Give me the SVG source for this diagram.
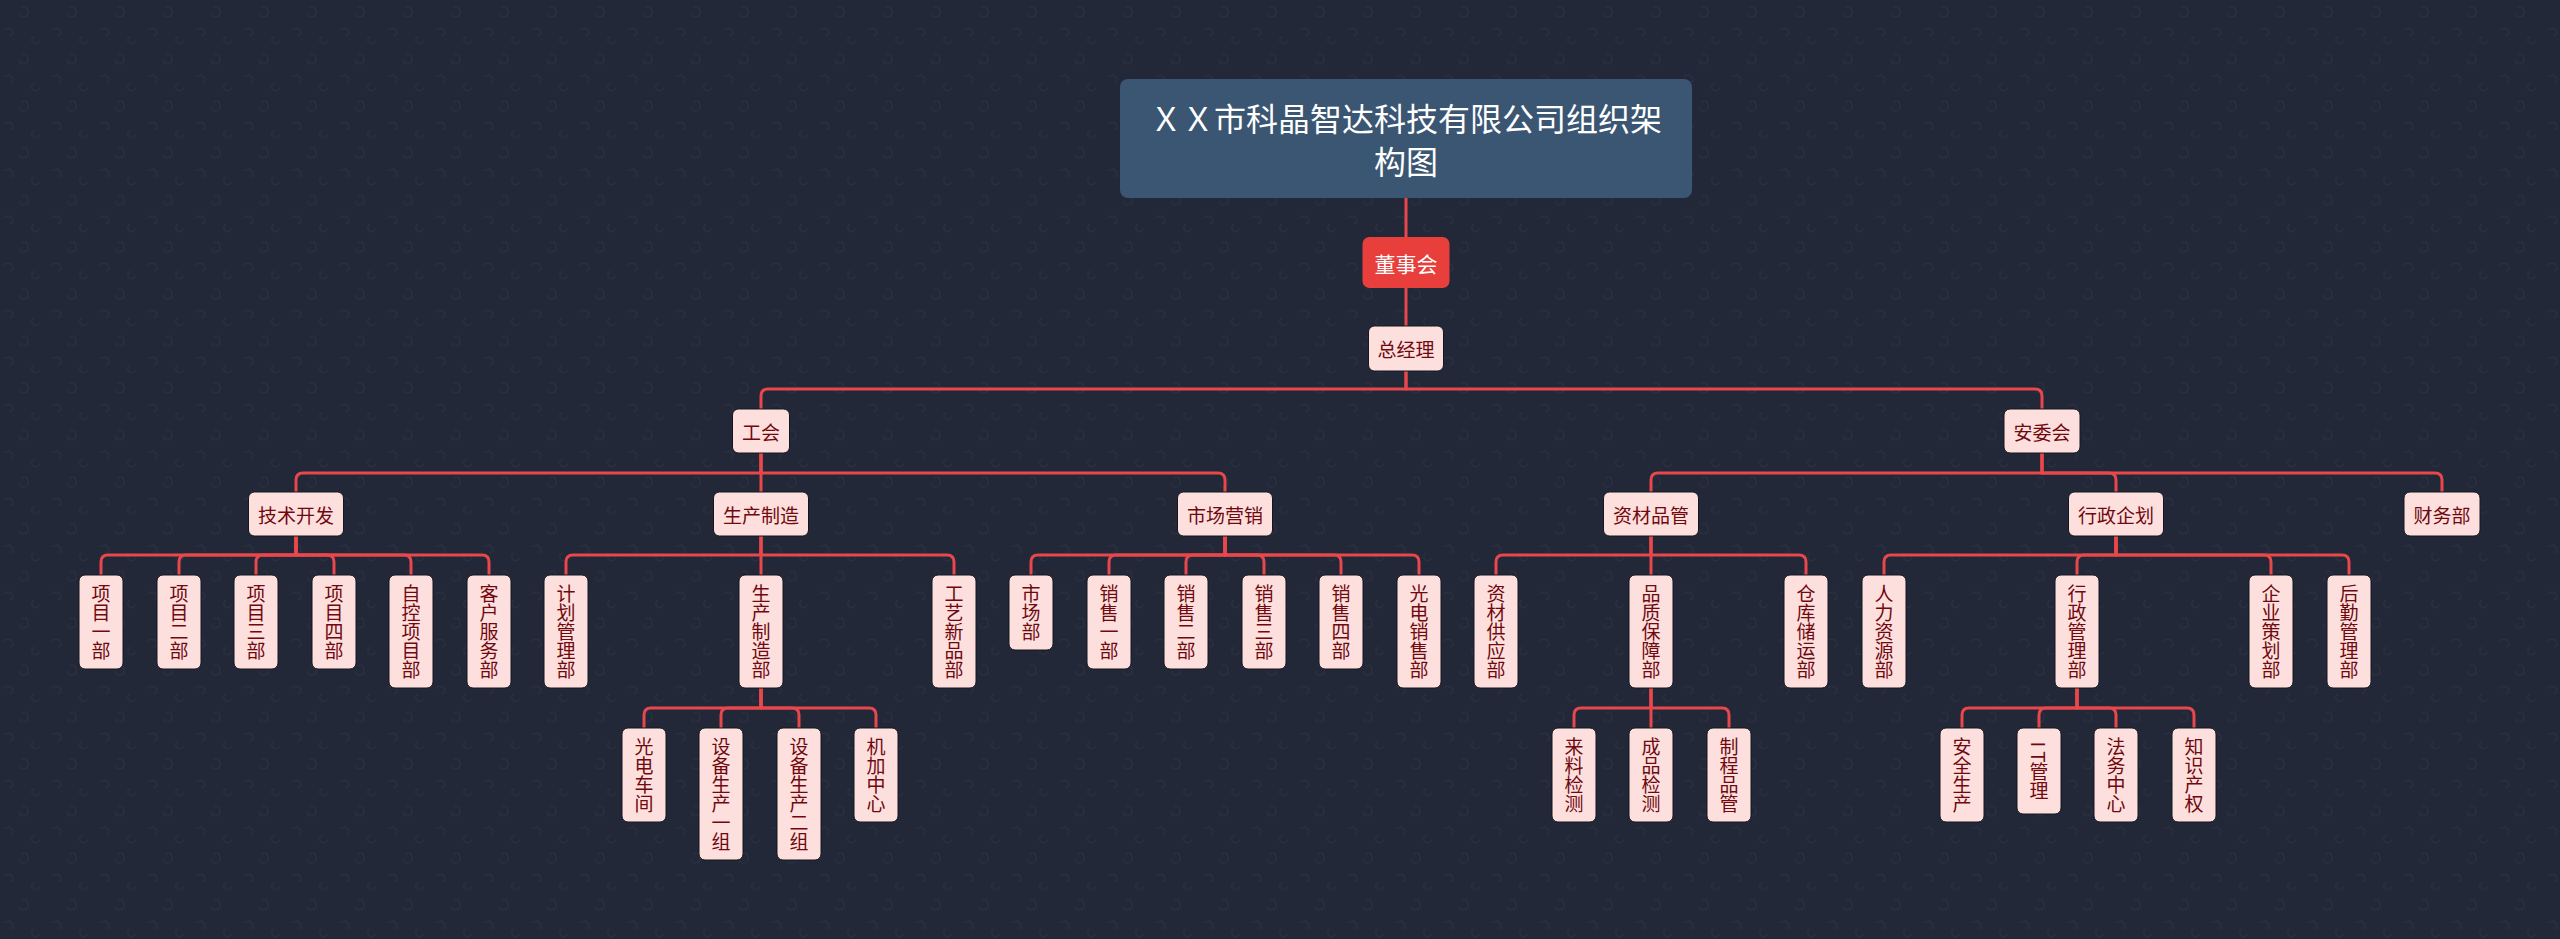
<svg xmlns="http://www.w3.org/2000/svg" width="2560" height="939" viewBox="0 0 2560 939">
<defs>
<pattern id="bgp" width="48" height="47" patternUnits="userSpaceOnUse">
<path d="M22 8 q5 -3 6 3 q1 6 -5 6 q-4 0 -3 -4" fill="none" stroke="#2b3042" stroke-width="1.2"/>
<path d="M4 30 q4 -4 8 0 q3 4 -2 6" fill="none" stroke="#2b3042" stroke-width="1.2"/>
<path d="M34 36 q-4 3 -1 7 q4 2 7 -2" fill="none" stroke="#2b3042" stroke-width="1.2"/>
</pattern>
<style>
.n{fill:#fde0de;stroke:#15171f;stroke-width:1}
.t{font-family:"Noto Sans CJK SC","Noto Sans",sans-serif;font-size:19px;fill:#70080e;text-anchor:middle;dominant-baseline:central}
.v{writing-mode:vertical-rl}
.c{fill:none;stroke:#e8474b;stroke-width:3;stroke-linejoin:round}
</style>
</defs>
<rect x="0" y="0" width="2560" height="939" fill="#232838"/>
<rect x="0" y="0" width="2560" height="939" fill="url(#bgp)"/>

<g id="connectors" class="c">
<path d="M1406 198 V237"/>
<path d="M1406 288 V326"/>
<path d="M1406 371 V389 H768 Q761 389 761 396 V409"/>
<path d="M1406 371 V389 H2035 Q2042 389 2042 396 V409"/>
<path d="M761 453 V473 H303 Q296 473 296 480 V492"/>
<path d="M761 453 V492"/>
<path d="M761 453 V473 H1218 Q1225 473 1225 480 V492"/>
<path d="M2042 453 V473 H1658 Q1651 473 1651 480 V492"/>
<path d="M2042 453 V473 H2109 Q2116 473 2116 480 V492"/>
<path d="M2042 453 V473 H2435 Q2442 473 2442 480 V492"/>
<path d="M296 536 V555 H108 Q101 555 101 562 V575"/>
<path d="M296 536 V555 H186 Q179 555 179 562 V575"/>
<path d="M296 536 V555 H263 Q256 555 256 562 V575"/>
<path d="M296 536 V555 H327 Q334 555 334 562 V575"/>
<path d="M296 536 V555 H404 Q411 555 411 562 V575"/>
<path d="M296 536 V555 H482 Q489 555 489 562 V575"/>
<path d="M761 536 V555 H573 Q566 555 566 562 V575"/>
<path d="M761 536 V575"/>
<path d="M761 536 V555 H947 Q954 555 954 562 V575"/>
<path d="M761 688 V708 H651 Q644 708 644 715 V728"/>
<path d="M761 688 V708 H728 Q721 708 721 715 V728"/>
<path d="M761 688 V708 H792 Q799 708 799 715 V728"/>
<path d="M761 688 V708 H869 Q876 708 876 715 V728"/>
<path d="M1225 536 V555 H1038 Q1031 555 1031 562 V575"/>
<path d="M1225 536 V555 H1116 Q1109 555 1109 562 V575"/>
<path d="M1225 536 V555 H1193 Q1186 555 1186 562 V575"/>
<path d="M1225 536 V555 H1257 Q1264 555 1264 562 V575"/>
<path d="M1225 536 V555 H1334 Q1341 555 1341 562 V575"/>
<path d="M1225 536 V555 H1412 Q1419 555 1419 562 V575"/>
<path d="M1651 536 V555 H1503 Q1496 555 1496 562 V575"/>
<path d="M1651 536 V575"/>
<path d="M1651 536 V555 H1799 Q1806 555 1806 562 V575"/>
<path d="M1651 688 V708 H1581 Q1574 708 1574 715 V728"/>
<path d="M1651 688 V728"/>
<path d="M1651 688 V708 H1722 Q1729 708 1729 715 V728"/>
<path d="M2116 536 V555 H1891 Q1884 555 1884 562 V575"/>
<path d="M2116 536 V555 H2084 Q2077 555 2077 562 V575"/>
<path d="M2116 536 V555 H2264 Q2271 555 2271 562 V575"/>
<path d="M2116 536 V555 H2342 Q2349 555 2349 562 V575"/>
<path d="M2077 688 V708 H1969 Q1962 708 1962 715 V728"/>
<path d="M2077 688 V708 H2046 Q2039 708 2039 715 V728"/>
<path d="M2077 688 V708 H2109 Q2116 708 2116 715 V728"/>
<path d="M2077 688 V708 H2187 Q2194 708 2194 715 V728"/>
</g>

<g id="title">
<rect x="1120" y="79" width="572" height="119" rx="8" fill="#3a5672"/>
<text x="1406" y="117" font-family="Noto Sans CJK SC, Noto Sans, sans-serif" font-size="32" fill="#ffffff" text-anchor="middle" dominant-baseline="central">ＸＸ市科晶智达科技有限公司组织架</text>
<text x="1406" y="160" font-family="Noto Sans CJK SC, Noto Sans, sans-serif" font-size="32" fill="#ffffff" text-anchor="middle" dominant-baseline="central">构图</text>
</g>
<g id="dongshihui">
<rect x="1362.5" y="237" width="87" height="51" rx="7" fill="#e83f3d"/>
<text x="1406" y="262.5" font-family="Noto Sans CJK SC, Noto Sans, sans-serif" font-size="21" fill="#ffffff" text-anchor="middle" dominant-baseline="central">董事会</text>
</g>
<g id="zongjingli"><rect class="n" x="1368.5" y="326" width="75" height="45" rx="6"/><text class="t" x="1406" y="348.5">总经理</text></g>
<g id="gonghui"><rect class="n" x="732.5" y="409" width="57" height="44" rx="6"/><text class="t" x="761" y="431">工会</text></g>
<g id="anweihui"><rect class="n" x="2004" y="409" width="76" height="44" rx="6"/><text class="t" x="2042" y="431">安委会</text></g>

<g id="jishukaifa"><rect class="n" x="248.5" y="492" width="95" height="44" rx="6"/><text class="t" x="296" y="514">技术开发</text></g>
<g id="shengchanzhizao"><rect class="n" x="713.5" y="492" width="95" height="44" rx="6"/><text class="t" x="761" y="514">生产制造</text></g>
<g id="shichangyingxiao"><rect class="n" x="1177.5" y="492" width="95" height="44" rx="6"/><text class="t" x="1225" y="514">市场营销</text></g>
<g id="zicaipinguan"><rect class="n" x="1603.5" y="492" width="95" height="44" rx="6"/><text class="t" x="1651" y="514">资材品管</text></g>
<g id="xingzhengqihua"><rect class="n" x="2068.5" y="492" width="95" height="44" rx="6"/><text class="t" x="2116" y="514">行政企划</text></g>
<g id="caiwubu"><rect class="n" x="2404" y="492" width="76" height="44" rx="6"/><text class="t" x="2442" y="514">财务部</text></g>

<g id="xiangmu1"><rect class="n" x="79" y="575" width="44" height="94" rx="6"/><text class="t v" x="101" y="622">项目一部</text></g>
<g id="xiangmu2"><rect class="n" x="157" y="575" width="44" height="94" rx="6"/><text class="t v" x="179" y="622">项目二部</text></g>
<g id="xiangmu3"><rect class="n" x="234" y="575" width="44" height="94" rx="6"/><text class="t v" x="256" y="622">项目三部</text></g>
<g id="xiangmu4"><rect class="n" x="312" y="575" width="44" height="94" rx="6"/><text class="t v" x="334" y="622">项目四部</text></g>
<g id="zikong"><rect class="n" x="389" y="575" width="44" height="113" rx="6"/><text class="t v" x="411" y="631.5">自控项目部</text></g>
<g id="kehufuwu"><rect class="n" x="467" y="575" width="44" height="113" rx="6"/><text class="t v" x="489" y="631.5">客户服务部</text></g>

<g id="jihuaguanli"><rect class="n" x="544" y="575" width="44" height="113" rx="6"/><text class="t v" x="566" y="631.5">计划管理部</text></g>
<g id="shengchanzhizaobu"><rect class="n" x="739" y="575" width="44" height="113" rx="6"/><text class="t v" x="761" y="631.5">生产制造部</text></g>
<g id="gongyixinpin"><rect class="n" x="932" y="575" width="44" height="113" rx="6"/><text class="t v" x="954" y="631.5">工艺新品部</text></g>

<g id="guangdianchejian"><rect class="n" x="622" y="728" width="44" height="94" rx="6"/><text class="t v" x="644" y="775">光电车间</text></g>
<g id="shebei1"><rect class="n" x="699" y="728" width="44" height="132" rx="6"/><text class="t v" x="721" y="794">设备生产一组</text></g>
<g id="shebei2"><rect class="n" x="777" y="728" width="44" height="132" rx="6"/><text class="t v" x="799" y="794">设备生产二组</text></g>
<g id="jijiazhongxin"><rect class="n" x="854" y="728" width="44" height="94" rx="6"/><text class="t v" x="876" y="775">机加中心</text></g>

<g id="shichangbu"><rect class="n" x="1009" y="575" width="44" height="75" rx="6"/><text class="t v" x="1031" y="612.5">市场部</text></g>
<g id="xiaoshou1"><rect class="n" x="1087" y="575" width="44" height="94" rx="6"/><text class="t v" x="1109" y="622">销售一部</text></g>
<g id="xiaoshou2"><rect class="n" x="1164" y="575" width="44" height="94" rx="6"/><text class="t v" x="1186" y="622">销售二部</text></g>
<g id="xiaoshou3"><rect class="n" x="1242" y="575" width="44" height="94" rx="6"/><text class="t v" x="1264" y="622">销售三部</text></g>
<g id="xiaoshou4"><rect class="n" x="1319" y="575" width="44" height="94" rx="6"/><text class="t v" x="1341" y="622">销售四部</text></g>
<g id="guangdianxiaoshou"><rect class="n" x="1397" y="575" width="44" height="113" rx="6"/><text class="t v" x="1419" y="631.5">光电销售部</text></g>

<g id="zicaigongying"><rect class="n" x="1474" y="575" width="44" height="113" rx="6"/><text class="t v" x="1496" y="631.5">资材供应部</text></g>
<g id="pinzhibaozhang"><rect class="n" x="1629" y="575" width="44" height="113" rx="6"/><text class="t v" x="1651" y="631.5">品质保障部</text></g>
<g id="cangkuchuyun"><rect class="n" x="1784" y="575" width="44" height="113" rx="6"/><text class="t v" x="1806" y="631.5">仓库储运部</text></g>

<g id="lailiaojiance"><rect class="n" x="1552" y="728" width="44" height="94" rx="6"/><text class="t v" x="1574" y="775">来料检测</text></g>
<g id="chengpinjiance"><rect class="n" x="1629" y="728" width="44" height="94" rx="6"/><text class="t v" x="1651" y="775">成品检测</text></g>
<g id="zhichengpinguan"><rect class="n" x="1707" y="728" width="44" height="94" rx="6"/><text class="t v" x="1729" y="775">制程品管</text></g>

<g id="renliziyuan"><rect class="n" x="1862" y="575" width="44" height="113" rx="6"/><text class="t v" x="1884" y="631.5">人力资源部</text></g>
<g id="xingzhengguanli"><rect class="n" x="2055" y="575" width="44" height="113" rx="6"/><text class="t v" x="2077" y="631.5">行政管理部</text></g>
<g id="qiyecehua"><rect class="n" x="2249" y="575" width="44" height="113" rx="6"/><text class="t v" x="2271" y="631.5">企业策划部</text></g>
<g id="houqinguanli"><rect class="n" x="2327" y="575" width="44" height="113" rx="6"/><text class="t v" x="2349" y="631.5">后勤管理部</text></g>

<g id="anquanshengchan"><rect class="n" x="1940" y="728" width="44" height="94" rx="6"/><text class="t v" x="1962" y="775">安全生产</text></g>
<g id="itguanli"><rect class="n" x="2017" y="728" width="44" height="86" rx="6"/><text class="t v" x="2039" y="771" font-family="Liberation Serif, Noto Sans CJK SC, serif">I T管理</text></g>
<g id="fawuzhongxin"><rect class="n" x="2094" y="728" width="44" height="94" rx="6"/><text class="t v" x="2116" y="775">法务中心</text></g>
<g id="zhishichanquan"><rect class="n" x="2172" y="728" width="44" height="94" rx="6"/><text class="t v" x="2194" y="775">知识产权</text></g>
</svg>
